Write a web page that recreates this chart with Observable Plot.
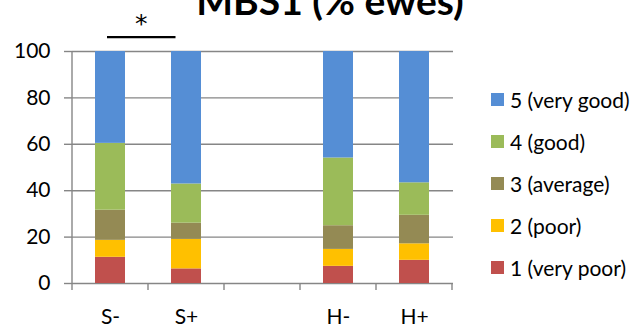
<!DOCTYPE html>
<html>
<head>
<meta charset="utf-8">
<script src="https://cdn.jsdelivr.net/npm/d3@7"></script>
<script src="https://cdn.jsdelivr.net/npm/@observablehq/plot@0.6"></script>
<style>
  html, body { margin: 0; padding: 0; background: #fff; }
  #chart { position: relative; width: 637px; height: 324px; overflow: hidden; font-family: Lato, sans-serif; }
  #chart svg { position: absolute; left: 0; top: 0; }
  .title { position: absolute; left: 0; width: 660px; top: -19px; text-align: center; font-size: 39px; font-weight: bold; line-height: 1; color: #000; white-space: nowrap; }
  .legend { position: absolute; left: 491px; top: 78px; }
  .legend .row { display: flex; align-items: center; height: 42px; font-size: 21px; color: #000; }
  .legend .sw { width: 13px; height: 13px; margin-right: 6px; }
</style>
</head>
<body>
<div id="chart"></div>
<script>
// Body condition score groups (x axis); the blank slot separates S and H groups
const categories = ["S-", "S+", "", "H-", "H+"];
const groups = ["S-", "S+", "H-", "H+"];

// Score levels, bottom of the stack first
const levels = ["1 (very poor)", "2 (poor)", "3 (average)", "4 (good)", "5 (very good)"];
const levelColors = ["#C0504D", "#FFC000", "#948A54", "#9BBB59", "#558ED5"];

// Percentage of ewes per level, one value per group (S-, S+, H-, H+)
const veryPoor = [11.3, 6.3, 7.4, 10.0];
const poor     = [7.3, 12.7, 7.3, 7.1];
const average  = [13.0, 7.0, 10.2, 12.3];
const good     = [28.8, 16.9, 29.2, 14.0];
const veryGood = [39.6, 57.1, 45.9, 56.6];

const yTicks = [0, 20, 40, 60, 80, 100];
const chartTitle = "MBS1 (% ewes)";
const significance = {from: "S-", to: "S+", label: "*"};

const series = [veryPoor, poor, average, good, veryGood];
const rows = [];
groups.forEach((g, i) => {
  series.forEach((values, k) => rows.push({group: g, level: levels[k], value: values[i]}));
});

const axisGray = "#868686";

// Category separators, left axis line and the significance bracket
function decorations(index, scales, values, dims) {
  const x = scales.x, y = scales.y;
  const step = x.step(), bw = x.bandwidth();
  const pad = (step - bw) / 2;
  const y0 = y(0), yTop = y(100);
  const g = d3.create("svg:g");
  const dom = x.domain();
  const bounds = dom.map(c => x(c) - pad).concat([x(dom[dom.length - 1]) + bw + pad]);
  g.append("line")
    .attr("x1", bounds[0]).attr("x2", bounds[0])
    .attr("y1", yTop).attr("y2", y0 + 7)
    .attr("stroke", axisGray).attr("stroke-width", 1.4);
  for (const b of bounds.slice(1)) {
    g.append("line")
      .attr("x1", b).attr("x2", b)
      .attr("y1", y0).attr("y2", y0 + 7)
      .attr("stroke", axisGray).attr("stroke-width", 1.4);
  }
  const xa = x(significance.from) + bw * 0.4;
  const xb = x(significance.to) + bw * 0.15;
  const yb = y(106);
  g.append("line")
    .attr("x1", xa).attr("x2", xb)
    .attr("y1", yb).attr("y2", yb)
    .attr("stroke", "#000").attr("stroke-width", 2.2);
  g.append("text")
    .attr("x", (xa + xb) / 2).attr("y", yb - 5)
    .attr("text-anchor", "middle")
    .attr("font-family", "DejaVu Sans, sans-serif")
    .attr("font-size", 25)
    .attr("fill", "#000")
    .text(significance.label);
  return g.node();
}

const plot = Plot.plot({
  width: 637,
  height: 324,
  marginLeft: 72,
  marginRight: 184,
  marginTop: 51,
  marginBottom: 41,
  style: {fontFamily: "Lato, sans-serif", fontSize: "21px", background: "transparent", overflow: "visible"},
  x: {domain: categories, paddingInner: 0.6, paddingOuter: 0.3, label: null},
  y: {domain: [0, 100], label: null},
  color: {domain: levels, range: levelColors},
  marks: [
    Plot.gridY(yTicks, {stroke: axisGray, strokeOpacity: 1, strokeWidth: 1.4}),
    Plot.barY(rows, {x: "group", y: "value", fill: "level", order: levels}),
    Plot.axisY(yTicks, {tickSize: 8, tickPadding: 14, stroke: axisGray, strokeWidth: 1.4, fill: "#000", fontSize: 21, label: null}),
    Plot.axisX({tickSize: 0, tickPadding: 26, fill: "#000", fontSize: 21, label: null}),
    decorations
  ]
});

const chart = document.getElementById("chart");
chart.appendChild(plot);

const title = document.createElement("div");
title.className = "title";
title.textContent = chartTitle;
chart.appendChild(title);

// Legend, top entry is the highest score
const legend = document.createElement("div");
legend.className = "legend";
levels.slice().reverse().forEach(lv => {
  const row = document.createElement("div");
  row.className = "row";
  const sw = document.createElement("span");
  sw.className = "sw";
  sw.style.background = levelColors[levels.indexOf(lv)];
  const label = document.createElement("span");
  label.textContent = lv;
  row.appendChild(sw);
  row.appendChild(label);
  legend.appendChild(row);
});
chart.appendChild(legend);
</script>
</body>
</html>
